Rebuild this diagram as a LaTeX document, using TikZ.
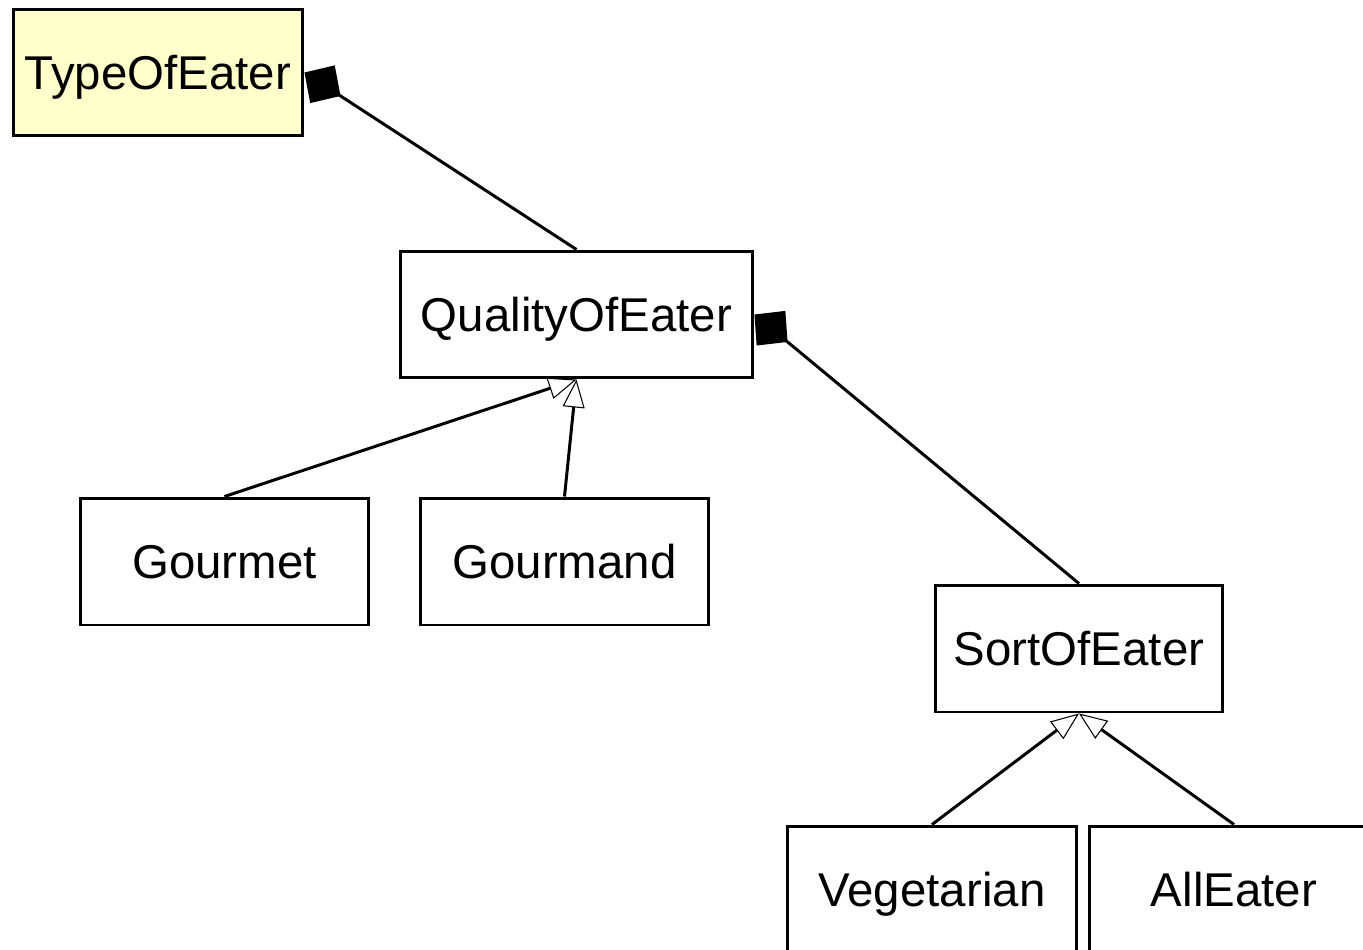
\documentclass[tikz,border=0pt]{standalone}
\usepackage{fontspec}
\setmainfont{Liberation Sans}
\usepackage{xcolor}
\usepackage{tikz}
\usetikzlibrary{arrows.meta}

\definecolor{rootfill}{HTML}{FFFFCC}

\begin{document}
\begin{tikzpicture}[x=0.02cm, y=-0.02cm,
    cls/.style={draw=black, line width=1.7pt, fill=white, inner sep=0pt,
      minimum width=5.78cm, minimum height=2.54cm, text height=19.3pt, text depth=0pt,
      font=\fontsize{27}{32}\selectfont},
    comp/.style={line width=1.7pt, -{Diamond[length=0.86cm, width=0.9cm]}},
    gen/.style={line width=1.7pt, -{Triangle[open, fill=white, line width=0.6pt, length=0.56cm, width=0.44cm]}}]
  \useasboundingbox (0,0) rectangle (1363,950);
  \clip (0,0) rectangle (1363,950);
  % 根类
  \node[cls, fill=rootfill, minimum width=5.8cm] (type) at (158,72.5) {TypeOfEater};
  % 第二层
  \node[cls, minimum width=7.06cm] (quality) at (576.5,314.5) {QualityOfEater};
  \node[cls] (gourmet) at (224.5,561.5) {Gourmet};
  \node[cls] (gourmand) at (564.5,561.5) {Gourmand};
  % 第三层
  \node[cls, minimum width=5.76cm] (sort) at (1079,648.5) {SortOfEater};
  \node[cls, minimum width=5.8cm] (veg) at (932,889.5) {Vegetarian};
  \node[cls, minimum width=5.8cm] (all) at (1234,889.5) {AllEater};
  % 组合关系
  \draw[comp] (quality.north) -- (type.east);
  \draw[comp] (sort.north) -- (quality.east);
  % 泛化关系
  \draw[gen] (gourmet.north) -- (quality.south);
  \draw[gen] (gourmand.north) -- (quality.south);
  \draw[gen] (veg.north) -- (sort.south);
  \draw[gen] (all.north) -- (sort.south);
\end{tikzpicture}
\end{document}
